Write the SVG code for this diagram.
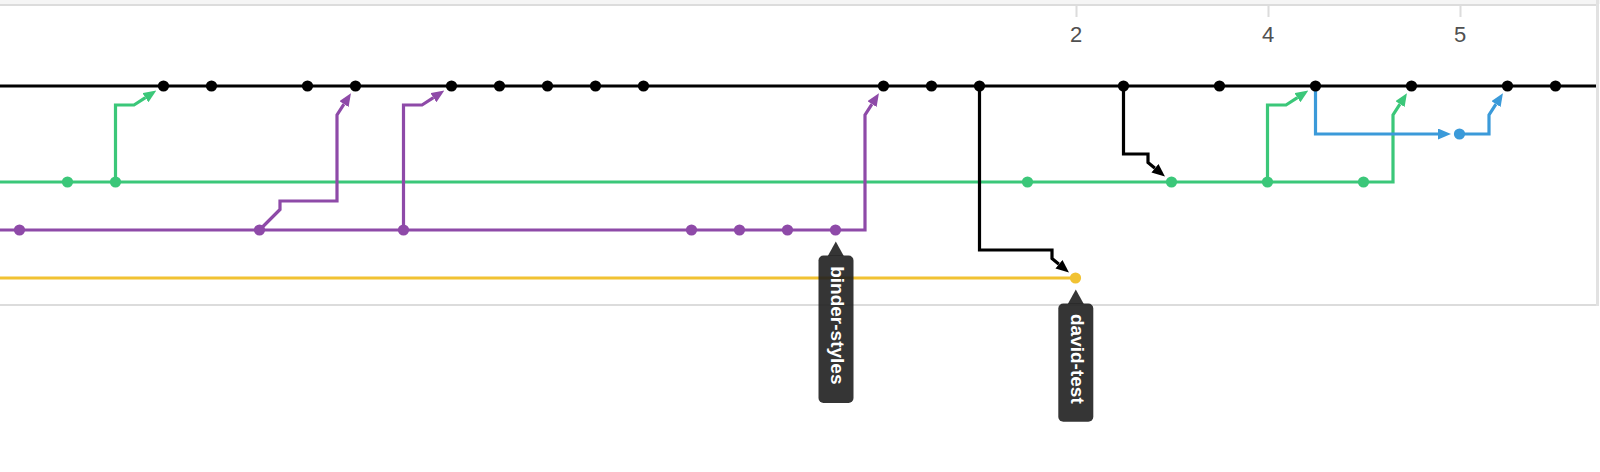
<svg xmlns="http://www.w3.org/2000/svg" width="1600" height="472" viewBox="0 0 1600 472">
  <style>
    .br { fill: none; stroke-width: 3.2; stroke-linejoin: miter; }
    .cn { fill: none; stroke-width: 3.2; stroke-linejoin: miter; }
    .k { stroke: #000; }
    .g { stroke: #3bc779; }
    .p { stroke: #8e4aa8; }
    .y { stroke: #f1c232; }
    .b { stroke: #3b9ad9; }
    .dk { fill: #000; }
    .dg { fill: #3bc779; }
    .dp { fill: #8e4aa8; }
    .dy { fill: #f1c232; }
    .db { fill: #3b9ad9; }
    .tick { fill: #dcdcdc; }
    .ax { font-family: "Liberation Sans", Arial, sans-serif; font-size: 22px; fill: #505050; text-anchor: middle; }
    .tip { fill: #1f1f1f; fill-opacity: 0.9; }
    .tt { font-family: "Liberation Sans", Arial, sans-serif; font-size: 19px; font-weight: bold; fill: #fff; }
  </style>
  <defs>
    <marker id="a-k" viewBox="0 0 13 11" refX="0" refY="5.5" markerWidth="13" markerHeight="11" orient="auto" markerUnits="userSpaceOnUse"><path d="M0,0 L13,5.5 L0,11 z" fill="#000"/></marker>
    <marker id="a-g" viewBox="0 0 13 11" refX="0" refY="5.5" markerWidth="13" markerHeight="11" orient="auto" markerUnits="userSpaceOnUse"><path d="M0,0 L13,5.5 L0,11 z" fill="#3bc779"/></marker>
    <marker id="a-p" viewBox="0 0 13 11" refX="0" refY="5.5" markerWidth="13" markerHeight="11" orient="auto" markerUnits="userSpaceOnUse"><path d="M0,0 L13,5.5 L0,11 z" fill="#8e4aa8"/></marker>
    <marker id="a-b" viewBox="0 0 13 11" refX="0" refY="5.5" markerWidth="13" markerHeight="11" orient="auto" markerUnits="userSpaceOnUse"><path d="M0,0 L13,5.5 L0,11 z" fill="#3b9ad9"/></marker>
  </defs>
  <rect x="0" y="0" width="1600" height="472" fill="#fff"/>
  <g id="frame">
    <rect x="0" y="0" width="1600" height="4" fill="#f5f5f5"/>
    <rect x="0" y="4" width="1598" height="2" fill="#dcdcdc"/>
    <rect x="0" y="304" width="1598" height="2" fill="#dcdcdc"/>
    <rect x="1596" y="0" width="3" height="306" fill="#e2e2e2"/>
  </g>
  <g id="axis">
    <rect class="tick" x="1075.5" y="6" width="2" height="11"/>
    <rect class="tick" x="1267.5" y="6" width="2" height="11"/>
    <rect class="tick" x="1459.5" y="6" width="2" height="11"/>
    <text class="ax" x="1076" y="41.5">2</text>
    <text class="ax" x="1268" y="41.5">4</text>
    <text class="ax" x="1460" y="41.5">5</text>
  </g>
  <g id="branches">
    <path class="br k" d="M0,86 H1596"/>
    <path class="br g" d="M0,182 H1363.5"/>
    <path class="br p" d="M0,230 H835.5"/>
    <path class="br y" d="M0,278 H1075.5"/>
  </g>
  <g id="connectors">
    <path class="cn g" d="M115.5,182 V105 H134 L145.42,97.64" marker-end="url(#a-g)"/>
    <path class="cn p" d="M259.5,230 L280,209.5 V201 H337 V115 L343.94,104.13" marker-end="url(#a-p)"/>
    <path class="cn p" d="M403.5,230 V105 H422 L433.42,97.64" marker-end="url(#a-p)"/>
    <path class="cn p" d="M835.5,230 H865 V115 L871.94,104.13" marker-end="url(#a-p)"/>
    <path class="cn k" d="M979.5,86 V250 H1052 V258.5 L1058.96,264.27" marker-end="url(#a-k)"/>
    <path class="cn k" d="M1123.5,86 V154 H1148 V162.5 L1154.96,168.27" marker-end="url(#a-k)"/>
    <path class="cn g" d="M1267.5,182 V105 H1286 L1297.42,97.64" marker-end="url(#a-g)"/>
    <path class="cn g" d="M1363.5,182 H1393 V115 L1399.94,104.13" marker-end="url(#a-g)"/>
    <path class="cn b" d="M1315.5,86 V134 H1438" marker-end="url(#a-b)"/>
    <path class="cn b" d="M1459.5,134 H1489 V115 L1495.94,104.13" marker-end="url(#a-b)"/>
  </g>
  <g id="commits">
    <g id="c-p0"><circle class="dp" cx="19.5" cy="230" r="5.6"/></g>
    <g id="c-g1"><circle class="dg" cx="67.5" cy="182" r="5.6"/></g>
    <g id="c-g2"><circle class="dg" cx="115.5" cy="182" r="5.6"/></g>
    <g id="c-k3"><circle class="dk" cx="163.5" cy="86" r="5.6"/></g>
    <g id="c-k4"><circle class="dk" cx="211.5" cy="86" r="5.6"/></g>
    <g id="c-p5"><circle class="dp" cx="259.5" cy="230" r="5.6"/></g>
    <g id="c-k6"><circle class="dk" cx="307.5" cy="86" r="5.6"/></g>
    <g id="c-k7"><circle class="dk" cx="355.5" cy="86" r="5.6"/></g>
    <g id="c-p8"><circle class="dp" cx="403.5" cy="230" r="5.6"/></g>
    <g id="c-k9"><circle class="dk" cx="451.5" cy="86" r="5.6"/></g>
    <g id="c-k10"><circle class="dk" cx="499.5" cy="86" r="5.6"/></g>
    <g id="c-k11"><circle class="dk" cx="547.5" cy="86" r="5.6"/></g>
    <g id="c-k12"><circle class="dk" cx="595.5" cy="86" r="5.6"/></g>
    <g id="c-k13"><circle class="dk" cx="643.5" cy="86" r="5.6"/></g>
    <g id="c-p14"><circle class="dp" cx="691.5" cy="230" r="5.6"/></g>
    <g id="c-p15"><circle class="dp" cx="739.5" cy="230" r="5.6"/></g>
    <g id="c-p16"><circle class="dp" cx="787.5" cy="230" r="5.6"/></g>
    <g id="c-p17"><circle class="dp" cx="835.5" cy="230" r="5.6"/></g>
    <g id="c-k18"><circle class="dk" cx="883.5" cy="86" r="5.6"/></g>
    <g id="c-k19"><circle class="dk" cx="931.5" cy="86" r="5.6"/></g>
    <g id="c-k20"><circle class="dk" cx="979.5" cy="86" r="5.6"/></g>
    <g id="c-g21"><circle class="dg" cx="1027.5" cy="182" r="5.6"/></g>
    <g id="c-y22"><circle class="dy" cx="1075.5" cy="278" r="5.6"/></g>
    <g id="c-k23"><circle class="dk" cx="1123.5" cy="86" r="5.6"/></g>
    <g id="c-g24"><circle class="dg" cx="1171.5" cy="182" r="5.6"/></g>
    <g id="c-k25"><circle class="dk" cx="1219.5" cy="86" r="5.6"/></g>
    <g id="c-g26"><circle class="dg" cx="1267.5" cy="182" r="5.6"/></g>
    <g id="c-k27"><circle class="dk" cx="1315.5" cy="86" r="5.6"/></g>
    <g id="c-g28"><circle class="dg" cx="1363.5" cy="182" r="5.6"/></g>
    <g id="c-k29"><circle class="dk" cx="1411.5" cy="86" r="5.6"/></g>
    <g id="c-b30"><circle class="db" cx="1459.5" cy="134" r="5.6"/></g>
    <g id="c-k31"><circle class="dk" cx="1507.5" cy="86" r="5.6"/></g>
    <g id="c-k32"><circle class="dk" cx="1555.5" cy="86" r="5.6"/></g>
  </g>
  <g id="label-binder-styles">
    <path class="tip" d="M827.8,256 L835.8,241.5 L843.8,256 Z"/>
    <rect class="tip" x="818.5" y="255.5" width="35" height="147.5" rx="5"/>
    <text class="tt" transform="translate(831.2,266.2) rotate(90)">binder-styles</text>
  </g>
  <g id="label-david-test">
    <path class="tip" d="M1067.8,304 L1075.8,289.5 L1083.8,304 Z"/>
    <rect class="tip" x="1058.3" y="303.5" width="35" height="118.2" rx="5"/>
    <text class="tt" transform="translate(1071.3,314) rotate(90)">david-test</text>
  </g>
</svg>
